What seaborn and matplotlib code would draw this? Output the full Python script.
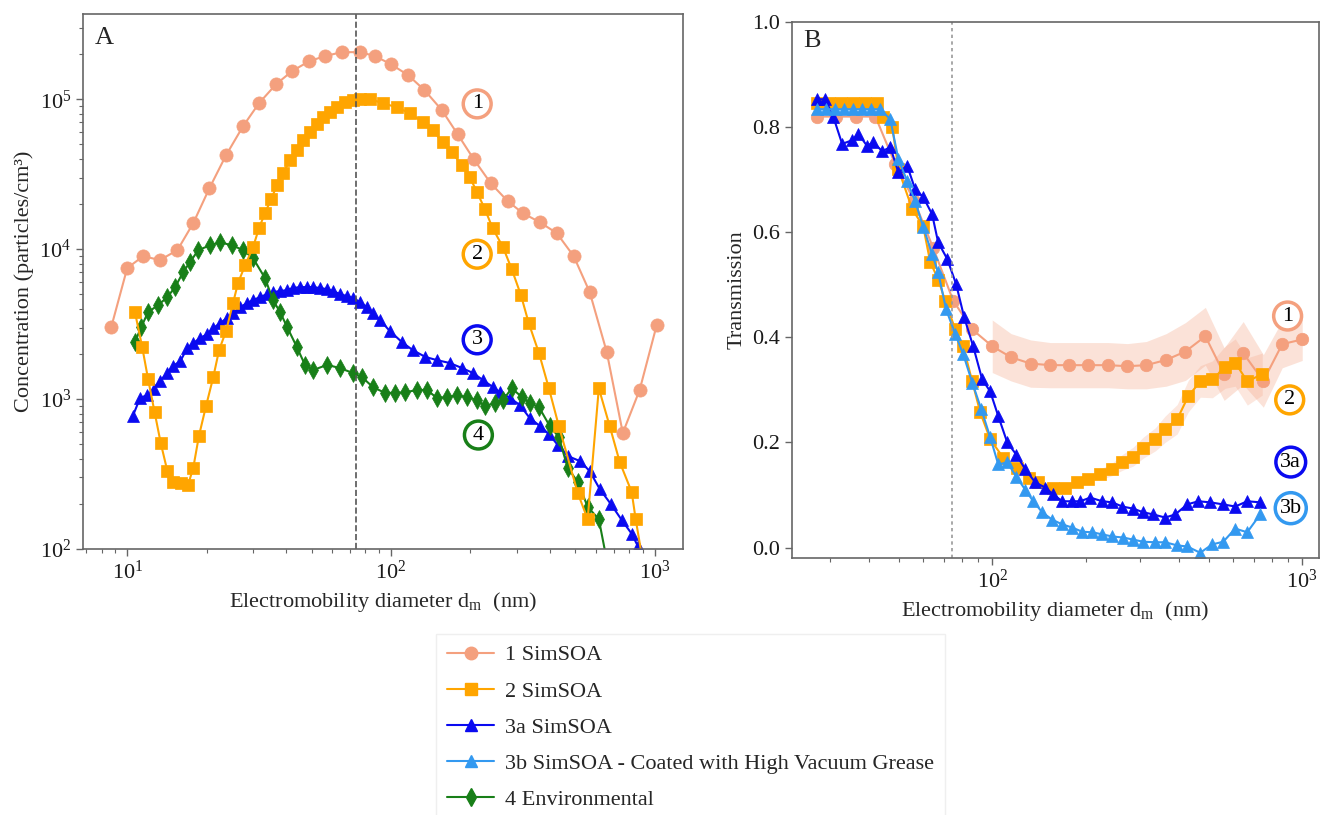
import numpy as np
import matplotlib
matplotlib.use("Agg")
import matplotlib.pyplot as plt
from matplotlib.lines import Line2D
import seaborn as sns

# ---- colours ----
SALMON = "#F4A07E"
ORANGE = "#FFA500"
BLUE = "#0A0AF0"
LIGHTBLUE = "#3399F0"
GREEN = "#187F18"

# ---- panel A: size distributions (nm, particles/cm3) ----
d1 = [8.7, 10.0, 11.5, 13.3, 15.5, 17.8, 20.5, 23.7, 27.5, 31.6, 36.7, 42.2, 48.9, 56.2, 65.2,
      76.3, 87.0, 100, 116, 134, 156, 179, 206, 239, 277, 316, 367, 425, 493, 567, 658, 757, 877, 1018]
c1 = [3020, 7470, 8980, 8450, 9850, 14900, 25500, 42300, 66100, 94000, 126000, 154000, 179000,
      194000, 206000, 206000, 194000, 171000, 145000, 115000, 84500, 58400, 39800, 27500, 20900,
      17400, 15100, 12800, 8980, 5170, 2060, 594, 1150, 3120]

d2 = [10.7, 11.4, 12.0, 12.7, 13.4, 14.2, 14.9, 16.0, 17.0, 17.8, 18.7, 19.9, 21.2, 22.3, 23.7,
      25.2, 26.3, 28.0, 30.0, 31.6, 33.3, 35.1, 37.0, 39.0, 41.4, 44.0, 46.4, 49.3, 52.4, 55.3,
      58.7, 62.4, 67.0, 71.8, 76.3, 83.3, 93.3, 105, 118, 132, 144, 157, 170, 186, 199, 212, 227,
      243, 266, 287, 311, 333, 364, 397, 433, 511, 557, 614, 675, 737, 818, 847, 916]
c2 = [3800, 2220, 1360, 819, 509, 331, 280, 275, 267, 347, 567, 898, 1400, 2120, 2840, 4370, 5930,
      7820, 10300, 13800, 17400, 21500, 26700, 32100, 39200, 45700, 53300, 60300, 68100, 75900,
      81900, 88400, 95500, 98500, 100000, 100000, 94000, 88400, 80700, 70300, 62100, 51700, 44300,
      36300, 30200, 24000, 18500, 13800, 10300, 7360, 4940, 3210, 2030, 1180, 661, 236, 158, 1180,
      661, 380, 240, 158, 70]

d3 = [10.5, 11.2, 11.9, 12.6, 13.3, 14.2, 14.9, 15.9, 16.9, 17.8, 18.9, 20.1, 21.2, 22.5, 23.9,
      25.2, 26.8, 28.5, 30.0, 31.9, 33.9, 35.7, 38.0, 40.4, 42.5, 45.2, 48.1, 50.7, 53.8, 57.2,
      60.3, 64.1, 68.1, 71.8, 76.3, 81.1, 85.5, 90.9, 99.1, 110, 121, 135, 149, 167, 186, 205, 223,
      244, 259, 282, 308, 336, 367, 397, 429, 468, 520, 567, 619, 681, 750, 819, 862, 917]
c3 = [771, 1020, 1060, 1170, 1320, 1490, 1660, 1790, 2190, 2360, 2550, 2710, 2970, 3210, 3470,
      3740, 4100, 4370, 4570, 4790, 5010, 5170, 5250, 5330, 5500, 5580, 5580, 5580, 5500, 5410,
      5250, 5010, 4860, 4710, 4430, 4100, 3740, 3360, 2840, 2400, 2120, 1910, 1820, 1740, 1610,
      1490, 1340, 1200, 1110, 1020, 912, 747, 661, 584, 494, 417, 386, 331, 251, 200, 156, 126,
      105, 84.5]

d4 = [10.7, 11.3, 12.0, 13.1, 14.2, 15.2, 16.3, 17.3, 18.6, 20.6, 22.5, 25.0, 27.5, 30.0, 33.3,
      35.7, 38.0, 40.4, 44.0, 47.2, 50.7, 57.2, 64.1, 71.8, 77.7, 85.5, 94.9, 104, 113, 126, 137,
      149, 163, 178, 194, 212, 227, 248, 266, 287, 314, 336, 364, 400, 433, 468, 511, 557, 614, 675]
c4 = [2400, 3020, 3800, 4230, 4790, 5580, 7030, 8190, 9850, 10600, 11100, 10600, 9850, 8710, 6410,
      4570, 3800, 3020, 2220, 1690, 1560, 1690, 1610, 1490, 1400, 1200, 1100, 1100, 1110, 1150,
      1150, 1020, 1030, 1060, 1030, 985, 898, 940, 985, 1180, 1030, 940, 884, 661, 558, 347, 280,
      191, 158, 67]

# ---- panel B: transmission ----
db1 = [27.3, 31.4, 36.4, 42.0, 48.6, 56.0, 64.5, 74.8, 86.2, 100, 115, 133, 154, 177, 204, 237,
       273, 314, 364, 420, 487, 560, 645, 749, 862, 1000]
t1 = [0.82, 0.82, 0.82, 0.82, 0.73, 0.66, 0.57, 0.47, 0.415, 0.383, 0.362, 0.35, 0.347, 0.347,
      0.347, 0.347, 0.345, 0.347, 0.357, 0.373, 0.402, 0.33, 0.37, 0.317, 0.387, 0.396]
err1 = [np.nan] * 9 + [0.05, 0.045, 0.045, 0.043, 0.043, 0.043, 0.043, 0.043, 0.045, 0.05,
                       0.055, 0.055, 0.05, 0.06, 0.05, 0.045, 0.04]

db2 = [27.3, 29.8, 32.6, 35.6, 38.9, 42.6, 44.5, 47.6, 49.8, 55.2, 59.9, 63.1, 67.0, 70.5, 76.0,
       80.6, 86.2, 91.5, 98.5, 108.5, 120, 131, 141, 157, 172, 188, 204, 223, 244, 263, 285, 307,
       336, 361, 395, 429, 469, 513, 564, 608, 665, 743]
t2 = [0.845, 0.845, 0.845, 0.845, 0.845, 0.845, 0.82, 0.80, 0.72, 0.644, 0.611, 0.543, 0.51,
      0.469, 0.415, 0.383, 0.316, 0.257, 0.206, 0.171, 0.152, 0.133, 0.124, 0.114, 0.114, 0.124,
      0.13, 0.139, 0.149, 0.162, 0.173, 0.19, 0.206, 0.225, 0.244, 0.288, 0.316, 0.32, 0.343,
      0.352, 0.316, 0.33]
err2 = [0.0] * 27 + [0.01, 0.012, 0.015, 0.018, 0.02, 0.022, 0.025, 0.028, 0.03, 0.03, 0.035,
                     0.04, 0.045, 0.045, 0.04]

db3a = [27.3, 28.9, 30.7, 32.8, 35.3, 37.0, 39.5, 41.3, 44.2, 46.9, 49.8, 53.2, 56.4, 59.9, 64.0,
        66.9, 71.6, 76.5, 81.2, 86.8, 92.8, 98.5, 104.6, 111.8, 119.5, 127.8, 137.6, 148.3, 157.4,
        168.2, 181.2, 192.2, 207.1, 226.5, 243.9, 262.7, 285.0, 307.0, 330.7, 361.4, 389.4, 425.6,
        461.8, 504.9, 556.3, 608.0, 664.6, 732.0]
t3a = [0.853, 0.853, 0.82, 0.768, 0.775, 0.787, 0.764, 0.771, 0.754, 0.762, 0.714, 0.726, 0.682,
       0.667, 0.634, 0.581, 0.549, 0.501, 0.438, 0.383, 0.32, 0.297, 0.25, 0.2, 0.177, 0.149,
       0.124, 0.114, 0.101, 0.088, 0.088, 0.088, 0.095, 0.088, 0.086, 0.078, 0.074, 0.067, 0.063,
       0.057, 0.063, 0.082, 0.088, 0.086, 0.082, 0.078, 0.088, 0.086]

db3b = [27.3, 29.1, 31.1, 33.3, 35.6, 38.1, 40.7, 43.5, 46.9, 49.8, 53.2, 56.4, 59.9, 64.0, 66.9,
        71.0, 76.0, 80.6, 86.2, 92.2, 98.5, 104.6, 111.8, 119.5, 127.8, 135.6, 145.0, 156.1, 168.2,
        181.2, 195.1, 210.3, 226.5, 243.9, 264.6, 285.0, 307.0, 335.7, 361.4, 395.3, 425.6, 468.8,
        512.6, 556.3, 608.0, 664.6, 732.0]
t3b = [0.834, 0.834, 0.834, 0.834, 0.834, 0.834, 0.834, 0.834, 0.815, 0.739, 0.697, 0.659, 0.61,
       0.558, 0.524, 0.453, 0.406, 0.368, 0.314, 0.263, 0.21, 0.158, 0.162, 0.135, 0.11, 0.088,
       0.067, 0.053, 0.044, 0.038, 0.03, 0.029, 0.025, 0.021, 0.019, 0.015, 0.011, 0.01, 0.01,
       0.004, 0.002, -0.01, 0.006, 0.011, 0.036, 0.029, 0.063]

cutoff_nm = 74

legend_labels = ["1 SimSOA", "2 SimSOA", "3a SimSOA",
                 "3b SimSOA - Coated with High Vacuum Grease", "4 Environmental"]

sns.set_style("ticks")
plt.rcParams["font.family"] = ["Liberation Serif", "DejaVu Serif"]
plt.rcParams["mathtext.fontset"] = "custom"
plt.rcParams["mathtext.rm"] = "Liberation Serif"
plt.rcParams["mathtext.it"] = "Liberation Serif:italic"
plt.rcParams["axes.edgecolor"] = "#666666"
plt.rcParams["xtick.color"] = "#666666"
plt.rcParams["ytick.color"] = "#666666"
plt.rcParams["xtick.labelcolor"] = "#1a1a1a"
plt.rcParams["ytick.labelcolor"] = "#1a1a1a"


def draw(ax, x, y, color, marker, ms):
    sns.lineplot(x=x, y=y, ax=ax, color=color, marker=marker, markersize=ms,
                 markeredgecolor=color, markeredgewidth=0.5, linewidth=1.5, errorbar=None)


def circled(ax, x, y, text, color):
    ax.text(x, y, text, transform=ax.transAxes, ha="center", va="center", fontsize=16,
            color="black",
            bbox=dict(boxstyle="circle,pad=0.2", fc="white", ec=color, lw=2.5))


fig = plt.figure(figsize=(13.2, 8.15), dpi=100)
axA = fig.add_axes([0.0629, 0.3264, 0.4545, 0.6564])
axB = fig.add_axes([0.6, 0.3153, 0.399, 0.6577])

# ---- panel A ----
axA.set_xscale("log")
axA.set_yscale("log")
draw(axA, d3, c3, BLUE, "^", 8)
draw(axA, d4, c4, GREEN, "d", 9)
draw(axA, d2, c2, ORANGE, "s", 8)
draw(axA, d1, c1, SALMON, "o", 9.5)
axA.axvline(cutoff_nm, color="#555555", ls="--", lw=1.2)
axA.set_xlim(6.8, 1280)
axA.set_ylim(100, 3.7e5)
axA.set_xlabel("Electromobility diameter d$_\\mathrm{m}$  (nm)", fontsize=16)
axA.set_ylabel("Concentration (particles/cm³)", fontsize=16)
axA.text(0.02, 0.975, "A", transform=axA.transAxes, fontsize=19, va="top")
circled(axA, 0.657, 0.832, "1", SALMON)
circled(axA, 0.657, 0.551, "2", ORANGE)
circled(axA, 0.657, 0.391, "3", BLUE)
circled(axA, 0.659, 0.213, "4", GREEN)

# ---- panel B ----
axB.set_xscale("log")
b1 = np.array(err1)
axB.fill_between(db1, np.array(t1) - b1, np.array(t1) + b1, color=SALMON, alpha=0.3, lw=0)
b2 = np.array(err2)
axB.fill_between(db2, np.array(t2) - b2, np.array(t2) + b2, color=SALMON, alpha=0.25, lw=0)
draw(axB, db1, t1, SALMON, "o", 9)
draw(axB, db2, t2, ORANGE, "s", 8)
draw(axB, db3a, t3a, BLUE, "^", 8.5)
draw(axB, db3b, t3b, LIGHTBLUE, "^", 8.5)
axB.axvline(cutoff_nm, color="#999999", ls=(0, (2, 2)), lw=1.2)
axB.set_xlim(22.6, 1130)
axB.set_ylim(-0.02, 1.0)
axB.set_yticks([0.0, 0.2, 0.4, 0.6, 0.8, 1.0])
axB.set_xlabel("Electromobility diameter d$_\\mathrm{m}$  (nm)", fontsize=16)
axB.set_ylabel("Transmission", fontsize=16)
axB.text(0.021, 0.985, "B", transform=axB.transAxes, fontsize=19, va="top")
circled(axB, 0.941, 0.4515, "1", SALMON)
circled(axB, 0.945, 0.295, "2", ORANGE)
circled(axB, 0.947, 0.179, "3a", BLUE)
circled(axB, 0.947, 0.093, "3b", LIGHTBLUE)

for ax in (axA, axB):
    ax.tick_params(which="major", labelsize=16, length=5, width=1)
    ax.tick_params(which="minor", length=3, width=0.8)
    for s in ax.spines.values():
        s.set_linewidth(1.2)

# ---- legend ----
styles = [(SALMON, "o"), (ORANGE, "s"), (BLUE, "^"), (LIGHTBLUE, "^"), (GREEN, "d")]
handles = [Line2D([], [], color=c, marker=m, markersize=9, lw=1.5, label=lab)
           for (c, m), lab in zip(styles, legend_labels)]
fig.legend(handles=handles, loc="upper left", bbox_to_anchor=(0.322, 0.236), fontsize=16,
           frameon=True, fancybox=False, edgecolor="0.92", handlelength=2.1,
           handletextpad=0.5, labelspacing=0.7, borderpad=0.5)

fig.savefig("out.png", dpi=100)
